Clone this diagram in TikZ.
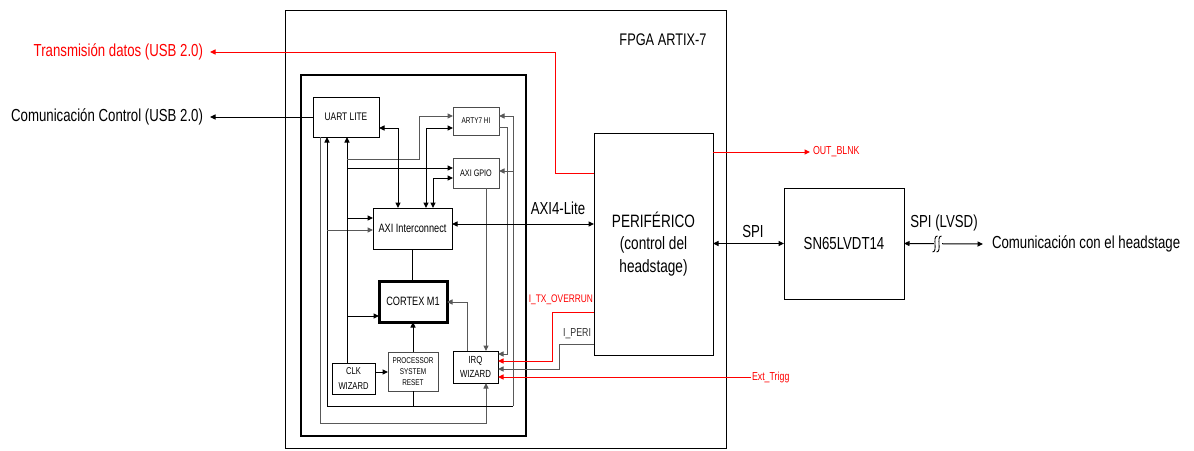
\documentclass[tikz,border=0pt]{standalone}
\usepackage{fontspec}
\setmainfont{Liberation Sans}[FakeStretch=0.76]
\usetikzlibrary{arrows.meta,calc}
\begin{document}
\begin{tikzpicture}[x=1pt,y=-1pt,
  box/.style={draw,line width=1pt,inner sep=0pt,outer sep=0pt,align=center},
  gbox/.style={box,draw=black!70},
  lbl/.style={inner sep=0pt,outer sep=0pt},
  arr/.style={-{Triangle[length=5.5pt,width=5pt]}},
  darr/.style={{Triangle[length=5.5pt,width=5pt]}-{Triangle[length=5.5pt,width=5pt]}},
  ln/.style={line width=1pt,draw=black},
  gl/.style={line width=1pt,draw=black!65},
  rl/.style={line width=1pt,draw=red},
  bigf/.style={font=\fontsize{17.4}{22.5}\selectfont},
  smallred/.style={font=\fontsize{11.6}{13}\selectfont,text=red},
]
\useasboundingbox (0,0) rectangle (1194,450);

% boxes
\node[box,minimum width=441pt,minimum height=438pt] (fpga) at (505.5,229) {};
\node[box,line width=2pt,minimum width=225pt,minimum height=361pt] (inner) at (413.5,255.5) {};
\node[box,minimum width=66pt,minimum height=40pt,font=\fontsize{11}{12}\selectfont] (uart) at (346,117) {UART LITE};
\node[gbox,minimum width=46pt,minimum height=28pt,font=\fontsize{8.4}{10}\selectfont] (arty) at (476,121) {ARTY7 HI};
\node[gbox,minimum width=46pt,minimum height=30pt,font=\fontsize{9.5}{10}\selectfont] (gpio) at (476,173) {AXI GPIO};
\node[box,minimum width=79pt,minimum height=41pt,font=\fontsize{12.1}{13}\selectfont] (axi) at (412.5,228.5) {AXI Interconnect};
\node[box,line width=3pt,minimum width=68pt,minimum height=41pt,font=\fontsize{12.1}{13}\selectfont] (cortex) at (413,301.5) {CORTEX M1};
\node[gbox,minimum width=50pt,minimum height=39pt,font=\fontsize{8.4}{11}\selectfont] (psr) at (413,371.5) {PROCESSOR\\SYSTEM\\RESET};
\node[box,minimum width=43pt,minimum height=31pt,font=\fontsize{10}{15}\selectfont] (clk) at (353.5,378.5) {CLK\\WIZARD};
\node[box,minimum width=45pt,minimum height=32pt,font=\fontsize{10.3}{14}\selectfont] (irq) at (475.5,367) {IRQ\\WIZARD};
\node[box,minimum width=119pt,minimum height=222pt,font=\fontsize{17.9}{22.5}\selectfont] (perif) at (653.5,244) {PERIFÉRICO\\(control del\\headstage)};
\node[box,minimum width=120pt,minimum height=111pt,bigf] (sn) at (844,243.5) {SN65LVDT14};

% labels
\node[lbl,font=\fontsize{16.8}{18}\selectfont] (fpgal) at (663,40) {FPGA ARTIX-7};
\node[lbl,bigf,text=red,anchor=east,inner xsep=7pt] (trans) at (210,52) {Transmisión datos (USB 2.0)};
\node[lbl,bigf,anchor=east,inner xsep=7pt] (comctl) at (210,117) {Comunicación Control (USB 2.0)};
\node[lbl,bigf,anchor=west,inner xsep=9pt] (comhead) at (983,244) {Comunicación con el headstage};
\node[lbl,bigf] (axil) at (558,208) {AXI4-Lite};
\node[lbl,bigf] (spil) at (753,232) {SPI};
\node[lbl,bigf] (lvsd) at (944,223) {SPI (LVSD)};
\node[lbl,smallred,anchor=west,inner xsep=3pt] (outb) at (810,152) {OUT\_BLNK};
\node[lbl,smallred,anchor=east,font=\fontsize{11}{12}\selectfont] (itx) at (593,300) {I\_TX\_OVERRUN};
\node[lbl,anchor=east,font=\fontsize{11.6}{13}\selectfont,text=black!80] (iperi) at (591,334) {I\_PERI};
\node[lbl,smallred,anchor=west,inner xsep=1pt] (ext) at (751,377) {Ext\_Trigg};

% coordinates
\coordinate (c1) at (320,423);
\coordinate (c2) at (486,423);
\coordinate (rL) at (327,406);
\coordinate (rR) at (513,406);
\coordinate (rA) at (327,230);
\coordinate (rT) at (513,116);
\coordinate (rG) at (513,171);
\coordinate (kx) at (347,0);
\coordinate (k1) at (347,159);
\coordinate (k1b) at (419,159);
\coordinate (k1c) at (419,116);
\coordinate (k2) at (347,168);
\coordinate (k3) at (347,218);
\coordinate (k4) at (347,316);
\coordinate (cp) at (380,372);
\coordinate (ua) at (398,128);
\coordinate (aa) at (426,128);
\coordinate (ag) at (433,178);
\coordinate (al) at (0,224);
\coordinate (gi) at (486,0);
\coordinate (ai) at (507,127);
\coordinate (ai2) at (507,354);
\coordinate (ic) at (467,302);
\coordinate (t1) at (555,173);
\coordinate (t2) at (555,52);
\coordinate (o1) at (552,312);
\coordinate (o2) at (552,361);
\coordinate (p1) at (559,344);
\coordinate (p2) at (559,369);

% UART interrupt to IRQ
\draw[gl,arr] (uart.south -| c1) -- (c1) -- (c2) -- (irq.south -| c2);
% reset bus
\draw[ln] (psr.south) -- (psr.south |- rL);
\draw[ln] (rL) -- (rR);
\draw[ln,arr] (rL) -- (uart.south -| rL);
\draw[gl,arr] (rA) -- (axi.west |- rA);
\draw[gl,arr] (rR) -- (rT) -- (arty.east |- rT);
\draw[gl,arr] (rG) -- (gpio.east |- rG);
% clock
\draw[ln,arr] (clk.north -| kx) -- (uart.south -| kx);
\draw[gl,arr] (k1) -- (k1b) -- (k1c) -- (arty.west |- k1c);
\draw[ln,arr] (k2) -- (gpio.west |- k2);
\draw[ln,arr] (k3) -- (axi.west |- k3);
\draw[ln,arr] (k4) -- (cortex.west |- k4);
\draw[ln,arr] (clk.east |- cp) -- (psr.west |- cp);
% bus
\draw[ln,darr] (uart.east |- ua) -- (ua) -- (axi.north -| ua);
\draw[ln,darr] (axi.north -| aa) -- (aa) -- (arty.west |- aa);
\draw[ln,darr] (axi.north -| ag) -- (ag) -- (gpio.west |- ag);
\draw[ln] (axi.south) -- (axi.south |- cortex.north);
\draw[ln,arr] (psr.north) -- (cortex.south);
% interrupts
\draw[gl,arr] (gpio.south -| gi) -- (irq.north -| gi);
\draw[gl,arr] (arty.east |- ai) -- (ai) -- (ai2) -- (irq.east |- ai2);
\draw[gl,arr] (irq.north -| ic) -- (ic) -- (cortex.east |- ic);
% external
\draw[ln,darr] (axi.east |- al) -- (perif.west |- al);
\draw[ln,arr] (uart.west) -- (comctl.east);
\draw[rl,arr] (perif.west |- t1) -- (t1) -- (t2) -- (trans.east);
\draw[rl,arr] (perif.east |- outb.west) -- (outb.west);
\draw[ln,darr] (perif.east |- sn.west) -- (sn.west);
\draw[ln,darr] (sn.east) -- (comhead.west);
\fill[white] (934,238) rectangle (942,250);
\draw[line width=0.9pt] (932.5,252) to[out=0,in=-90] (935,244) to[out=90,in=180] (937.5,236);
\draw[line width=0.9pt] (936.5,252) to[out=0,in=-90] (939,244) to[out=90,in=180] (941.5,236);
\draw[rl,arr] (perif.west |- o1) -- (o1) -- (o2) -- (irq.east |- o2);
\draw[gl,arr] (perif.west |- p1) -- (p1) -- (p2) -- (irq.east |- p2);
\draw[rl,arr] (ext.west) -- (irq.east |- ext.west);
\end{tikzpicture}
\end{document}
